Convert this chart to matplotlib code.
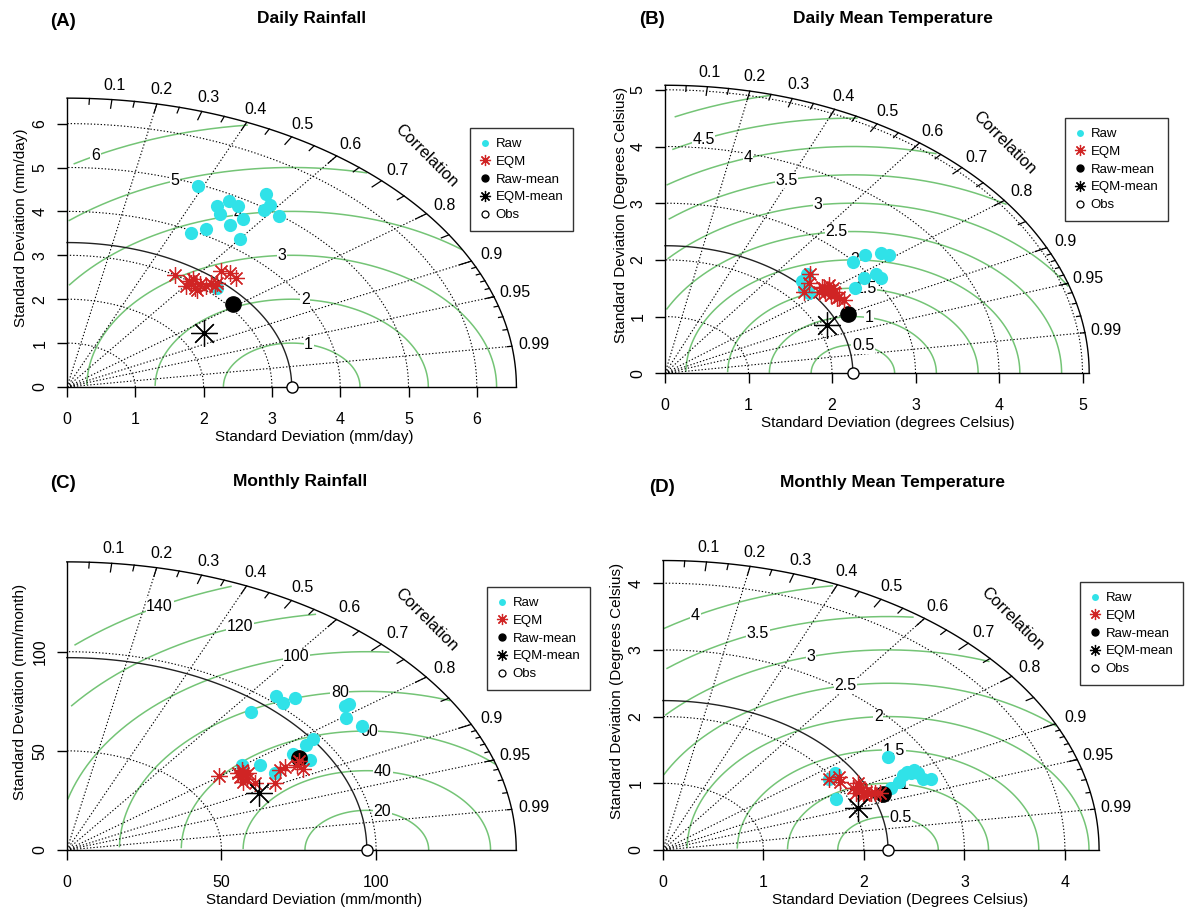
import numpy as np
import matplotlib
matplotlib.use('Agg')
import matplotlib.pyplot as plt
from matplotlib.lines import Line2D

plt.rcParams['font.family'] = ['Liberation Sans', 'DejaVu Sans']

W, H = 1187, 915

# (A) Daily Rainfall - points as (sd*cos, sd*sin) components
a_raw_x = [1.92, 2.19, 2.24, 2.37, 2.50, 2.39, 2.58, 1.82, 2.03, 2.54, 2.92, 2.97, 2.88, 3.10, 2.19]
a_raw_y = [4.58, 4.12, 3.93, 4.23, 4.12, 3.69, 3.83, 3.50, 3.60, 3.36, 4.39, 4.14, 4.04, 3.89, 2.26]
a_eqm_x = [1.58, 1.79, 1.85, 1.74, 1.87, 1.95, 2.03, 2.11, 2.19, 2.26, 2.39, 2.47, 1.90, 1.82, 2.16]
a_eqm_y = [2.56, 2.41, 2.45, 2.30, 2.26, 2.34, 2.31, 2.36, 2.36, 2.64, 2.60, 2.49, 2.22, 2.37, 2.30]
a_raw_mean = [2.43, 1.90]
a_eqm_mean = [2.00, 1.23]
a_obs_sd = 3.29
a_maxsd = 6.58
a_ticks = [0, 1, 2, 3, 4, 5, 6]
a_gamma = [1, 2, 3, 4, 5, 6]

# (B) Daily Mean Temperature
b_raw_x = [2.25, 2.40, 2.59, 2.68, 2.38, 2.53, 2.59, 2.28, 1.64, 1.70, 1.72, 1.68, 1.66]
b_raw_y = [1.97, 2.09, 2.12, 2.09, 1.68, 1.76, 1.68, 1.50, 1.62, 1.76, 1.41, 1.55, 1.48]
b_eqm_x = [1.74, 1.72, 1.66, 1.84, 1.91, 1.97, 1.95, 1.99, 2.02, 2.06, 2.14, 2.01, 1.92, 2.08, 1.88]
b_eqm_y = [1.76, 1.59, 1.44, 1.44, 1.50, 1.56, 1.47, 1.38, 1.44, 1.32, 1.29, 1.50, 1.41, 1.35, 1.53]
b_raw_mean = [2.19, 1.05]
b_eqm_mean = [1.94, 0.85]
b_obs_sd = 2.25
b_maxsd = 5.08
b_ticks = [0, 1, 2, 3, 4, 5]
b_gamma = [0.5, 1, 1.5, 2, 2.5, 3, 3.5, 4, 4.5, 5]

# (C) Monthly Rainfall
c_raw_x = [59.5, 67.6, 69.8, 73.8, 89.9, 91.3, 90.3, 95.3, 79.7, 77.3, 73.2, 78.6, 62.5, 67.3, 56.5]
c_raw_y = [69.7, 77.7, 74.3, 76.8, 72.6, 73.6, 66.4, 62.7, 55.8, 52.9, 48.4, 45.4, 42.9, 39.0, 42.9]
c_eqm_x = [49.2, 56.5, 56.0, 56.9, 58.7, 60.9, 67.3, 68.9, 70.5, 75.2, 76.5, 57.1, 58.2, 74.3, 55.4]
c_eqm_y = [37.5, 40.3, 37.0, 34.4, 38.7, 33.6, 33.9, 40.3, 41.7, 45.0, 40.7, 38.7, 35.6, 42.9, 38.7]
c_raw_mean = [75.2, 46.2]
c_eqm_mean = [62.2, 28.6]
c_obs_sd = 97.0
c_maxsd = 145.3
c_ticks = [0, 50, 100]
c_gamma = [20, 40, 60, 80, 100, 120, 140]

# (D) Monthly Mean Temperature
d_raw_x = [2.24, 2.39, 2.43, 2.50, 2.54, 2.59, 2.67, 2.35, 2.27, 1.72, 1.71, 1.65, 2.47]
d_raw_y = [1.40, 1.12, 1.17, 1.20, 1.15, 1.07, 1.06, 1.02, 0.93, 0.76, 1.15, 1.07, 1.15]
d_eqm_x = [1.65, 1.75, 1.76, 1.94, 1.89, 1.97, 1.99, 2.02, 2.07, 2.11, 2.16, 1.95, 2.00, 1.92]
d_eqm_y = [1.06, 1.09, 1.02, 1.00, 0.93, 0.90, 0.85, 0.87, 0.85, 0.86, 0.86, 0.95, 0.82, 0.85]
d_raw_mean = [2.19, 0.84]
d_eqm_mean = [1.94, 0.63]
d_obs_sd = 2.24
d_maxsd = 4.34
d_ticks = [0, 1, 2, 3, 4]
d_gamma = [0.5, 1, 1.5, 2, 2.5, 3, 3.5, 4]

corr_labels = [0.1, 0.2, 0.3, 0.4, 0.5, 0.6, 0.7, 0.8, 0.9, 0.95, 0.99]
corr_lines = [0.2, 0.4, 0.6, 0.8, 0.9, 0.95, 0.99]
legend_labels = ['Raw', 'EQM', 'Raw-mean', 'EQM-mean', 'Obs']

CYAN = '#30e2e8'
RED = '#d02424'
GREEN = '#74c476'
STAR = (8, 2, 0)
DOT = (0, (1.2, 1.8))

fig = plt.figure(figsize=(W / 100, H / 100), dpi=100)


def px(x, y):
    return x / W, 1 - y / H


def taylor(box, maxsd, sd_r, ticks, gammas, raw_x, raw_y, eqm_x, eqm_y,
           raw_mean, eqm_mean, xlab, ylab, ylab_x, xlab_x, title, title_xy, tag, tag_xy, leg_xy):
    ox, oy, sx, sy = box
    ax = fig.add_axes([ox / W, 1 - oy / H, maxsd * sx / W, maxsd * sy / H])
    ax.set_xlim(0, maxsd)
    ax.set_ylim(0, maxsd)
    ax.patch.set_visible(False)
    for s in ['top', 'right']:
        ax.spines[s].set_visible(False)
    for s in ['left', 'bottom']:
        ax.spines[s].set_linewidth(1)
    ax.set_xticks(ticks)
    ax.set_yticks(ticks)
    ax.tick_params(direction='out', length=7, width=1, labelsize=11.5)
    ax.tick_params(axis='x', pad=11)
    ax.tick_params(axis='y', pad=7)
    for lab in ax.get_yticklabels():
        lab.set_rotation(90)
        lab.set_va('center')

    # gamma (centred RMS) contours
    t = np.arange(0, np.pi, 0.03)
    lpos = np.linspace(45, 70, len(gammas)).astype(int) - 1
    for g, k in zip(gammas, lpos):
        xc = sd_r + g * np.cos(t)
        yc = g * np.sin(t)
        ok = (xc >= 0) & (xc ** 2 + yc ** 2 <= maxsd ** 2)
        ax.plot(xc[ok], yc[ok], color=GREEN, lw=1.1, zorder=1)
        if xc[k] > 0:
            ax.text(xc[k], yc[k], f'{g:g}', fontsize=11.5, ha='center', va='center', zorder=2,
                    bbox=dict(fc='white', ec='none', pad=0.5))

    # sd arcs
    q = np.linspace(0, np.pi / 2, 120)
    for s in ticks[1:]:
        ax.plot(s * np.cos(q), s * np.sin(q), color='black', lw=0.8, ls=DOT, zorder=1)

    # correlation rays
    for c in corr_lines:
        ax.plot([0, maxsd * c], [0, maxsd * np.sqrt(1 - c ** 2)], color='black', lw=0.8, ls=DOT, zorder=1)

    # outer arc and reference arc
    ax.plot(maxsd * np.cos(q), maxsd * np.sin(q), color='black', lw=1, clip_on=False)
    ax.plot(sd_r * np.cos(q), sd_r * np.sin(q), color='#222222', lw=1, clip_on=False)

    # arc ticks
    for cs, f in [(np.arange(0.1, 0.95, 0.1), 0.97), (np.arange(0.05, 1.0, 0.1), 0.98),
                  (np.arange(0.91, 0.995, 0.01), 0.99)]:
        for ang in np.arccos(cs):
            ax.plot([maxsd * np.cos(ang), f * maxsd * np.cos(ang)],
                    [maxsd * np.sin(ang), f * maxsd * np.sin(ang)], color='black', lw=0.9, clip_on=False)
    for c in corr_labels:
        ang = np.arccos(c)
        ax.text(1.05 * maxsd * np.cos(ang), 1.05 * maxsd * np.sin(ang), f'{c:g}',
                fontsize=11.5, ha='center', va='center')
    ax.text(0.8 * maxsd, 0.8 * maxsd, 'Correlation', rotation=-45, fontsize=12,
            ha='center', va='center', rotation_mode='anchor')

    # points
    ax.plot(raw_x, raw_y, ls='none', marker='o', color=CYAN, ms=9.5, mec='none', zorder=3, clip_on=False)
    ax.plot(raw_mean[0], raw_mean[1], ls='none', marker='o', color='black', ms=11, zorder=4)
    ax.plot(eqm_x, eqm_y, ls='none', marker=STAR, ms=12, mec=RED, mew=0.9, zorder=5)
    ax.plot(eqm_mean[0], eqm_mean[1], ls='none', marker=STAR, ms=19, mec='black', mew=0.9, zorder=6)
    ax.plot(sd_r, 0, ls='none', marker='o', mfc='white', mec='black', ms=8, mew=1, zorder=6, clip_on=False)

    # labels
    cy = oy - 0.55 * maxsd * sy
    fig.text(*px(xlab_x, oy + 50), xlab, fontsize=11, ha='center', va='center')
    fig.text(*px(ylab_x, cy), ylab, fontsize=11, ha='center', va='center', rotation=90)
    fig.text(*px(*title_xy), title, fontsize=12.5, fontweight='bold', ha='center', va='center')
    fig.text(*px(*tag_xy), tag, fontsize=13.5, fontweight='bold', ha='center', va='center')

    handles = [
        Line2D([], [], ls='none', marker='o', color=CYAN, ms=5, mec='none'),
        Line2D([], [], ls='none', marker=STAR, ms=8, mec=RED, mew=0.9),
        Line2D([], [], ls='none', marker='o', color='black', ms=5),
        Line2D([], [], ls='none', marker=STAR, ms=8, mec='black', mew=0.9),
        Line2D([], [], ls='none', marker='o', mfc='white', mec='black', ms=5, mew=0.9),
    ]
    leg = fig.legend(handles, legend_labels, loc='upper left', bbox_to_anchor=px(*leg_xy),
                     frameon=True, fancybox=False, edgecolor='black', fontsize=9.5,
                     labelspacing=0.42, handlelength=0.8, handletextpad=0.4,
                     borderpad=0.75, borderaxespad=0)
    leg.get_frame().set_linewidth(1)


taylor((67, 387, 68.3, 43.9), a_maxsd, a_obs_sd, a_ticks, a_gamma,
       a_raw_x, a_raw_y, a_eqm_x, a_eqm_y, a_raw_mean, a_eqm_mean,
       'Standard Deviation (mm/day)', 'Standard Deviation (mm/day)', 21, 314,
       'Daily Rainfall', (312, 18), '(A)', (63, 22), (470, 128))

taylor((665, 373.3, 83.5, 56.7), b_maxsd, b_obs_sd, b_ticks, b_gamma,
       b_raw_x, b_raw_y, b_eqm_x, b_eqm_y, b_raw_mean, b_eqm_mean,
       'Standard Deviation (degrees Celsius)', 'Standard Deviation (Degrees Celsius)', 621, 888,
       'Daily Mean Temperature', (893, 18), '(B)', (652, 20), (1065, 118))

taylor((66.8, 850, 3.093, 1.983), c_maxsd, c_obs_sd, c_ticks, c_gamma,
       c_raw_x, c_raw_y, c_eqm_x, c_eqm_y, c_raw_mean, c_eqm_mean,
       'Standard Deviation (mm/month)', 'Standard Deviation (mm/month)', 20, 314,
       'Monthly Rainfall', (300, 481), '(C)', (63, 483), (487, 587))

taylor((662.9, 850, 100.5, 66.7), d_maxsd, d_obs_sd, d_ticks, d_gamma,
       d_raw_x, d_raw_y, d_eqm_x, d_eqm_y, d_raw_mean, d_eqm_mean,
       'Standard Deviation (Degrees Celsius)', 'Standard Deviation (Degrees Celsius)', 617, 900,
       'Monthly Mean Temperature', (893, 483), '(D)', (662, 487), (1080, 582))

fig.savefig('out.png', dpi=100)
